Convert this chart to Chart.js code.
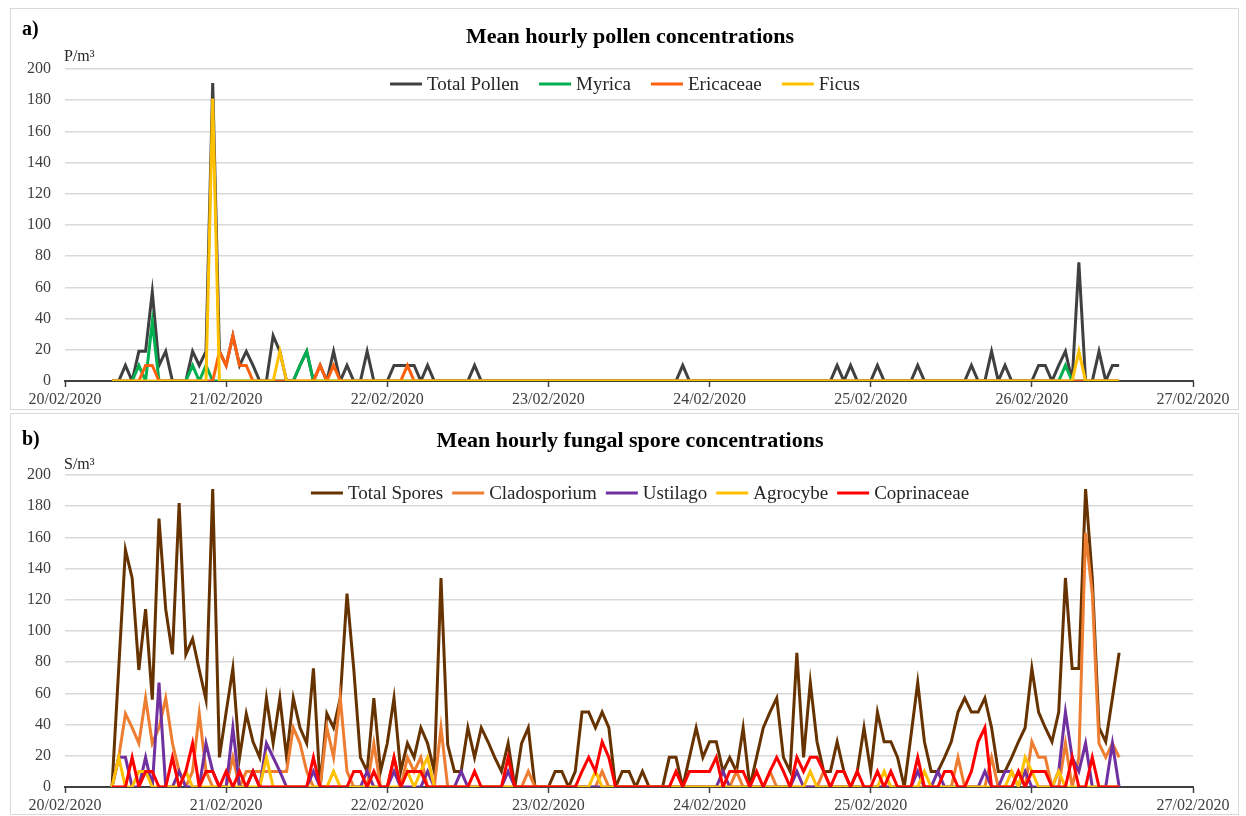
<!DOCTYPE html>
<html>
<head>
<meta charset="utf-8">
<script src="https://cdn.jsdelivr.net/npm/chart.js@4.4.1/dist/chart.umd.min.js"></script>
<style>
  body { margin: 0; background: #fff; }
  #wrap { position: relative; width: 1246px; height: 816px; }
  .panel { position: absolute; left: 0; width: 1246px; }
</style>
</head>
<body>
<div id="wrap">
  <div class="panel" style="top:0;height:410px"><canvas id="pollenChart"></canvas></div>
  <div class="panel" style="top:410px;height:406px"><canvas id="sporeChart"></canvas></div>
</div>
<script>
// x axis: hours since 20/02/2020 00:00, one tick per day
const dayLabels = ['20/02/2020', '21/02/2020', '22/02/2020', '23/02/2020', '24/02/2020', '25/02/2020', '26/02/2020', '27/02/2020'];
const startHour = 7;   // first hourly sample: 20/02 07:00
const yMax = 200;
const yStep = 20;

// pollen, P/m3, hourly from 20/02 07:00 to 26/02 13:00 (one row per day)
const totalPollen = [
    0, 0, 10, 0, 19, 19, 57, 10, 19, 0, 0, 0, 19, 10, 19, 191, 19,
    10, 29, 10, 19, 10, 0, 0, 29, 19, 0, 0, 10, 19, 0, 10, 0, 19, 0, 10, 0, 0, 19, 0, 0,
    0, 10, 10, 10, 10, 0, 10, 0, 0, 0, 0, 0, 0, 10, 0, 0, 0, 0, 0, 0, 0, 0, 0, 0,
    0, 0, 0, 0, 0, 0, 0, 0, 0, 0, 0, 0, 0, 0, 0, 0, 0, 0, 0, 0, 10, 0, 0, 0,
    0, 0, 0, 0, 0, 0, 0, 0, 0, 0, 0, 0, 0, 0, 0, 0, 0, 0, 0, 10, 0, 10, 0, 0,
    0, 10, 0, 0, 0, 0, 0, 10, 0, 0, 0, 0, 0, 0, 0, 10, 0, 0, 19, 0, 10, 0, 0, 0,
    0, 10, 10, 0, 10, 19, 0, 76, 0, 0, 19, 0, 10, 10
];
const myrica = [
    0, 0, 0, 0, 10, 0, 38, 0, 0, 0, 0, 0, 10, 0, 10, 0, 0,
    0, 0, 0, 0, 0, 0, 0, 0, 0, 0, 0, 10, 19, 0, 0, 0, 0, 0, 0, 0, 0, 0, 0, 0,
    0, 0, 0, 0, 0, 0, 0, 0, 0, 0, 0, 0, 0, 0, 0, 0, 0, 0, 0, 0, 0, 0, 0, 0,
    0, 0, 0, 0, 0, 0, 0, 0, 0, 0, 0, 0, 0, 0, 0, 0, 0, 0, 0, 0, 0, 0, 0, 0,
    0, 0, 0, 0, 0, 0, 0, 0, 0, 0, 0, 0, 0, 0, 0, 0, 0, 0, 0, 0, 0, 0, 0, 0,
    0, 0, 0, 0, 0, 0, 0, 0, 0, 0, 0, 0, 0, 0, 0, 0, 0, 0, 0, 0, 0, 0, 0, 0,
    0, 0, 0, 0, 0, 10, 0, 0, 0, 0, 0, 0, 0, 0
];
const ericaceae = [
    0, 0, 0, 0, 0, 10, 10, 0, 0, 0, 0, 0, 0, 0, 0, 0, 19,
    10, 29, 10, 10, 0, 0, 0, 0, 0, 0, 0, 0, 0, 0, 10, 0, 10, 0, 0, 0, 0, 0, 0, 0,
    0, 0, 0, 10, 0, 0, 0, 0, 0, 0, 0, 0, 0, 0, 0, 0, 0, 0, 0, 0, 0, 0, 0, 0,
    0, 0, 0, 0, 0, 0, 0, 0, 0, 0, 0, 0, 0, 0, 0, 0, 0, 0, 0, 0, 0, 0, 0, 0,
    0, 0, 0, 0, 0, 0, 0, 0, 0, 0, 0, 0, 0, 0, 0, 0, 0, 0, 0, 0, 0, 0, 0, 0,
    0, 0, 0, 0, 0, 0, 0, 0, 0, 0, 0, 0, 0, 0, 0, 0, 0, 0, 0, 0, 0, 0, 0, 0,
    0, 0, 0, 0, 0, 0, 0, 0, 0, 0, 0, 0, 0, 0
];
const ficus = [
    0, 0, 0, 0, 0, 0, 0, 0, 0, 0, 0, 0, 0, 0, 0, 181, 0,
    0, 0, 0, 0, 0, 0, 0, 0, 19, 0, 0, 0, 0, 0, 0, 0, 0, 0, 0, 0, 0, 0, 0, 0,
    0, 0, 0, 0, 0, 0, 0, 0, 0, 0, 0, 0, 0, 0, 0, 0, 0, 0, 0, 0, 0, 0, 0, 0,
    0, 0, 0, 0, 0, 0, 0, 0, 0, 0, 0, 0, 0, 0, 0, 0, 0, 0, 0, 0, 0, 0, 0, 0,
    0, 0, 0, 0, 0, 0, 0, 0, 0, 0, 0, 0, 0, 0, 0, 0, 0, 0, 0, 0, 0, 0, 0, 0,
    0, 0, 0, 0, 0, 0, 0, 0, 0, 0, 0, 0, 0, 0, 0, 0, 0, 0, 0, 0, 0, 0, 0, 0,
    0, 0, 0, 0, 0, 0, 0, 19, 0, 0, 0, 0, 0, 0
];

// fungal spores, S/m3, same hours
const totalSpores = [
    0, 76, 152, 134, 75, 114, 56, 172, 114, 85, 182, 85, 95, 75, 56, 191, 19,
    48, 76, 19, 47, 29, 19, 57, 28, 57, 19, 57, 38, 28, 76, 0, 47, 38, 57, 124, 76, 19, 10, 57, 10,
    28, 57, 10, 28, 19, 38, 28, 10, 134, 27, 10, 10, 38, 19, 38, 29, 19, 10, 28, 0, 28, 38, 0, 0,
    0, 10, 10, 0, 10, 48, 48, 38, 48, 38, 0, 10, 10, 0, 10, 0, 0, 0, 19, 19, 0, 19, 38, 19,
    29, 29, 10, 19, 10, 38, 0, 19, 38, 48, 57, 19, 10, 86, 19, 67, 29, 10, 10, 29, 10, 0, 10, 38,
    10, 48, 29, 29, 19, 0, 33, 67, 29, 10, 10, 19, 29, 48, 57, 48, 48, 57, 38, 10, 10, 19, 29, 38,
    76, 48, 38, 29, 48, 134, 76, 76, 191, 134, 38, 29, 57, 86
];
const cladosporium = [
    0, 19, 47, 38, 28, 57, 28, 38, 57, 28, 10, 0, 10, 47, 10, 0, 0,
    0, 19, 0, 10, 10, 10, 10, 10, 10, 10, 38, 28, 10, 0, 0, 38, 19, 57, 10, 0, 0, 0, 28, 0,
    0, 19, 0, 19, 10, 19, 0, 0, 38, 0, 0, 0, 0, 0, 0, 0, 0, 0, 0, 0, 0, 10, 0, 0,
    0, 0, 0, 0, 0, 0, 0, 0, 10, 0, 0, 0, 0, 0, 0, 0, 0, 0, 0, 0, 0, 0, 0, 0,
    0, 0, 0, 0, 10, 0, 0, 0, 0, 10, 0, 0, 0, 0, 0, 0, 0, 10, 0, 0, 0, 0, 0, 0,
    0, 0, 0, 0, 0, 0, 0, 0, 0, 0, 0, 0, 0, 19, 0, 0, 0, 0, 19, 0, 0, 0, 10, 0,
    29, 19, 19, 0, 0, 28, 0, 19, 163, 124, 28, 19, 28, 19
];
const ustilago = [
    0, 19, 19, 0, 0, 19, 0, 67, 0, 0, 10, 0, 0, 0, 28, 10, 0,
    0, 38, 0, 0, 10, 0, 28, 19, 10, 0, 0, 0, 0, 10, 0, 0, 0, 0, 0, 0, 0, 10, 0, 0,
    0, 10, 0, 0, 0, 0, 10, 0, 0, 0, 0, 10, 0, 0, 0, 0, 0, 0, 10, 0, 0, 0, 0, 0,
    0, 0, 0, 0, 0, 0, 0, 0, 0, 0, 0, 0, 0, 0, 0, 0, 0, 0, 0, 0, 0, 0, 0, 0,
    0, 0, 10, 0, 0, 0, 0, 0, 0, 0, 0, 0, 0, 10, 0, 0, 0, 0, 0, 0, 0, 0, 0, 0,
    0, 0, 0, 0, 0, 0, 0, 10, 0, 0, 10, 0, 0, 0, 0, 0, 0, 10, 0, 0, 10, 10, 0, 10,
    0, 0, 0, 0, 10, 48, 19, 10, 28, 0, 0, 0, 28, 0
];
const agrocybe = [
    0, 19, 0, 0, 10, 10, 0, 0, 0, 0, 0, 10, 0, 0, 0, 0, 0,
    0, 0, 0, 0, 0, 0, 19, 0, 0, 0, 0, 0, 0, 0, 0, 0, 10, 0, 0, 0, 0, 0, 0, 0,
    0, 0, 0, 10, 0, 10, 19, 0, 0, 0, 0, 0, 0, 0, 0, 0, 0, 0, 0, 0, 0, 0, 0, 0,
    0, 0, 0, 0, 0, 0, 0, 10, 0, 0, 0, 0, 0, 0, 0, 0, 0, 0, 0, 0, 0, 0, 0, 0,
    0, 0, 0, 0, 0, 0, 0, 0, 0, 0, 0, 0, 0, 0, 0, 10, 0, 0, 0, 0, 0, 0, 0, 0,
    0, 0, 10, 0, 0, 0, 0, 0, 10, 0, 0, 0, 0, 0, 0, 0, 0, 0, 0, 0, 0, 10, 0, 19,
    10, 0, 0, 0, 10, 0, 0, 0, 0, 0, 0, 0, 0, 0
];
const coprinaceae = [
    0, 0, 0, 19, 0, 10, 10, 0, 0, 19, 0, 10, 28, 0, 10, 10, 0,
    10, 0, 10, 0, 10, 0, 0, 0, 0, 0, 0, 0, 0, 19, 0, 0, 0, 0, 0, 10, 10, 0, 10, 0,
    0, 19, 0, 10, 10, 10, 0, 0, 0, 0, 0, 0, 0, 10, 0, 0, 0, 0, 19, 0, 0, 0, 0, 0,
    0, 0, 0, 0, 0, 10, 19, 10, 29, 19, 0, 0, 0, 0, 0, 0, 0, 0, 0, 10, 0, 10, 10, 10,
    10, 19, 0, 10, 10, 10, 0, 10, 0, 10, 19, 10, 0, 19, 10, 19, 19, 10, 0, 10, 10, 0, 10, 0,
    0, 10, 0, 10, 0, 0, 0, 19, 0, 0, 0, 10, 10, 0, 0, 10, 29, 38, 0, 0, 0, 0, 10, 0,
    10, 10, 10, 0, 0, 0, 19, 0, 0, 19, 0, 0, 0, 0
];

const SERIF = '"Liberation Serif", "Times New Roman", serif';

const toPoints = (values) => values.map((v, i) => ({ x: startHour + i, y: v }));

// titles, unit label and the legend sit inside the plot box, so they are drawn by hand
const panelDecor = {
    id: 'panelDecor',
    afterDraw(chart, args, opts) {
        const ctx = chart.ctx;
        ctx.save();

        ctx.strokeStyle = '#d9d9d9';
        ctx.lineWidth = 1;
        ctx.strokeRect(10.5, opts.boxTop + 0.5, 1228, opts.boxHeight);

        ctx.fillStyle = '#000';
        ctx.textBaseline = 'middle';
        ctx.textAlign = 'left';
        ctx.font = 'bold 20px ' + SERIF;
        ctx.fillText(opts.letter, 22, opts.letterY);

        ctx.textAlign = 'center';
        ctx.font = 'bold 22px ' + SERIF;
        ctx.fillText(opts.title, 630, opts.titleY);

        ctx.textAlign = 'left';
        ctx.fillStyle = '#262626';
        ctx.font = '16px ' + SERIF;
        ctx.fillText(opts.unit, 64, opts.unitY);

        ctx.font = '19px ' + SERIF;
        const lineLen = 32, textGap = 5, itemGap = opts.itemGap;
        const widths = opts.items.map(it => ctx.measureText(it.label).width);
        const total = widths.reduce((a, w) => a + w + lineLen + textGap, 0) + itemGap * (opts.items.length - 1);
        let x = opts.legendX - total / 2;
        opts.items.forEach((it, i) => {
            ctx.strokeStyle = it.color;
            ctx.lineWidth = 3;
            ctx.beginPath();
            ctx.moveTo(x, opts.legendY);
            ctx.lineTo(x + lineLen, opts.legendY);
            ctx.stroke();
            ctx.fillStyle = '#262626';
            ctx.fillText(it.label, x + lineLen + textGap, opts.legendY + 1);
            x += lineLen + textGap + widths[i] + itemGap;
        });
        ctx.restore();
    }
};

window.drawPanel = (canvasId, series, decor, areaTop, areaBottomGap) => {
    const ctx = document.getElementById(canvasId).getContext('2d');

    window.panelCharts = window.panelCharts || {};
    if (window.panelCharts[canvasId]) {
        window.panelCharts[canvasId].destroy();
    }

    window.panelCharts[canvasId] = new Chart(ctx, {
        type: 'line',
        data: {
            datasets: series.map((s, i) => ({
                label: s.label,
                data: toPoints(s.values),
                borderColor: s.color,
                backgroundColor: s.color,
                borderWidth: 3,
                fill: false,
                tension: 0,
                pointRadius: 0,
                order: series.length - i
            }))
        },
        options: {
            responsive: true,
            maintainAspectRatio: false,
            animation: false,
            layout: { padding: { top: areaTop, right: 53, bottom: 0, left: 0 } },
            scales: {
                x: {
                    type: 'linear',
                    min: 0,
                    max: (dayLabels.length - 1) * 24,
                    afterFit: (scale) => { scale.height = areaBottomGap; },
                    ticks: {
                        stepSize: 24,
                        autoSkip: false,
                        maxRotation: 0,
                        padding: 3,
                        color: '#404040',
                        font: { family: SERIF, size: 16 },
                        callback: (value) => dayLabels[value / 24]
                    },
                    grid: {
                        drawOnChartArea: false,
                        drawTicks: true,
                        tickLength: 6,
                        tickColor: '#404040',
                        tickWidth: 1.5
                    },
                    border: { display: true, color: '#404040', width: 2 }
                },
                y: {
                    min: 0,
                    max: yMax,
                    afterFit: (scale) => { scale.width = 65; },
                    ticks: {
                        stepSize: yStep,
                        padding: 14,
                        color: '#404040',
                        font: { family: SERIF, size: 16 }
                    },
                    grid: { color: '#d9d9d9', lineWidth: 1.5, drawTicks: false },
                    border: { display: false }
                }
            },
            plugins: {
                legend: { display: false },
                tooltip: { enabled: false },
                panelDecor: decor
            }
        },
        plugins: [panelDecor]
    });
};

drawPanel('pollenChart', [
    { label: 'Total Pollen', values: totalPollen, color: '#404040' },
    { label: 'Myrica', values: myrica, color: '#00b050' },
    { label: 'Ericaceae', values: ericaceae, color: '#ff6010' },
    { label: 'Ficus', values: ficus, color: '#ffc000' }
], {
    letter: 'a)', letterY: 30,
    title: 'Mean hourly pollen concentrations', titleY: 37,
    unit: 'P/m\u00b3', unitY: 57,
    legendX: 625, legendY: 84, itemGap: 20,
    boxTop: 8, boxHeight: 401,
    items: [
        { label: 'Total Pollen', color: '#404040' },
        { label: 'Myrica', color: '#00b050' },
        { label: 'Ericaceae', color: '#ff6010' },
        { label: 'Ficus', color: '#ffc000' }
    ]
}, 69, 29);

drawPanel('sporeChart', [
    { label: 'Total Spores', values: totalSpores, color: '#663300' },
    { label: 'Cladosporium', values: cladosporium, color: '#ed7d31' },
    { label: 'Ustilago', values: ustilago, color: '#7030a0' },
    { label: 'Agrocybe', values: agrocybe, color: '#ffc000' },
    { label: 'Coprinaceae', values: coprinaceae, color: '#ff0000' }
], {
    letter: 'b)', letterY: 30,
    title: 'Mean hourly fungal spore concentrations', titleY: 31,
    unit: 'S/m\u00b3', unitY: 55,
    legendX: 640, legendY: 83, itemGap: 9,
    boxTop: 3, boxHeight: 401,
    items: [
        { label: 'Total Spores', color: '#663300' },
        { label: 'Cladosporium', color: '#ed7d31' },
        { label: 'Ustilago', color: '#7030a0' },
        { label: 'Agrocybe', color: '#ffc000' },
        { label: 'Coprinaceae', color: '#ff0000' }
    ]
}, 65, 29);
</script>
</body>
</html>
